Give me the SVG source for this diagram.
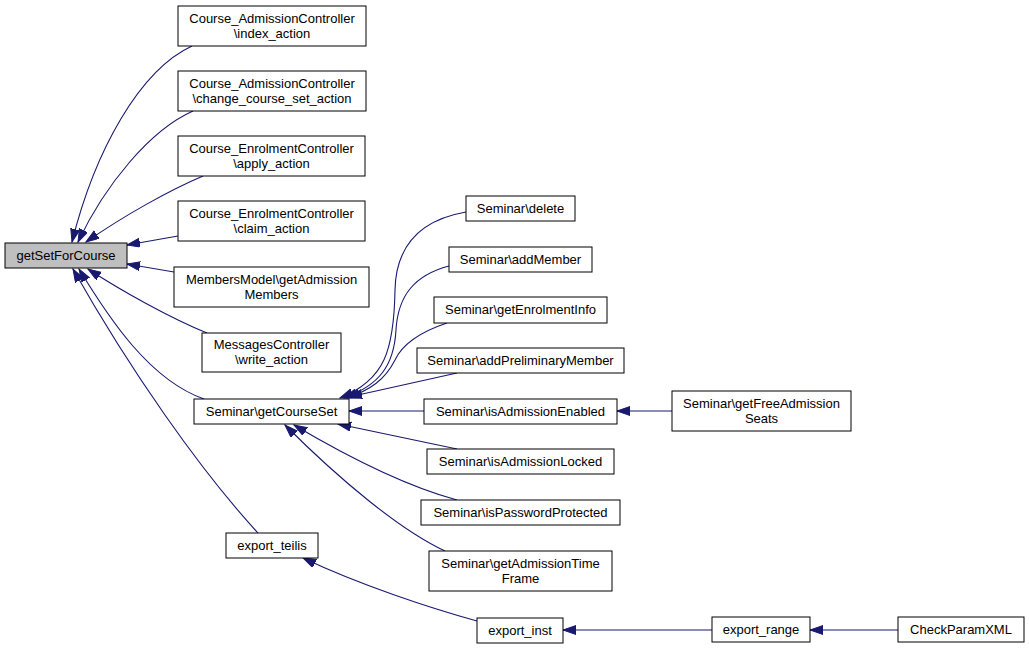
<svg xmlns="http://www.w3.org/2000/svg" width="1029" height="649" viewBox="0 0 1029 649">
<style>
.n rect{fill:#ffffff;stroke:#000000;stroke-width:1}
.n.hl rect{fill:#bfbfbf}
.n text{font-family:"Liberation Sans",Arial,sans-serif;font-size:13px;text-anchor:middle;fill:#000000}
.e path{fill:none;stroke:#191970;stroke-width:1.1;marker-end:url(#ah)}
</style>
<defs>
<marker id="ah" markerUnits="userSpaceOnUse" markerWidth="14" markerHeight="10" refX="13" refY="4.5" orient="auto">
<path d="M0,0 L13,4.5 L0,9 z" fill="#191970" stroke="#191970" stroke-width="1"/>
</marker>
</defs>
<rect x="0" y="0" width="1029" height="649" fill="#ffffff"/>
<g id="edges" class="e">
<path d="M192,46 C140,70 95,150 72,242"/>
<path d="M193,111 C150,130 105,185 78,242"/>
<path d="M203,176 C170,190 125,215 86,242"/>
<path d="M178,236 L127,245"/>
<path d="M174,272 L127,264"/>
<path d="M207,333 C170,318 120,290 88,269"/>
<path d="M204,399 C150,380 110,320 79,269"/>
<path d="M258,533 C200,470 130,370 73,269"/>
<path d="M466,212 C420,220 396,245 395,290 C394,350 385,380 340,398"/>
<path d="M449,266 C415,275 398,295 396,330 C394,365 380,385 344,398"/>
<path d="M447,323 C420,332 402,345 395,360 C385,380 370,390 347,398"/>
<path d="M457,373 L349,397"/>
<path d="M424,411 L349,411"/>
<path d="M457,449 L338,424"/>
<path d="M457,500 C420,490 370,470 294,425"/>
<path d="M445,551 C400,530 340,480 285,425"/>
<path d="M672,411 L617,411"/>
<path d="M477,621 C430,608 360,585 303,558"/>
<path d="M712,630 L563,630"/>
<path d="M898,630 L810,630"/>
</g>
<g id="getSetForCourse" class="n hl"><rect x="5" y="243" width="122" height="25"/><text x="66" y="260">getSetForCourse</text></g>
<g id="index_action" class="n"><rect x="178" y="6" width="188" height="40"/><text x="272" y="23">Course_AdmissionController</text><text x="272" y="38">\index_action</text></g>
<g id="change_course_set_action" class="n"><rect x="178" y="71" width="188" height="40"/><text x="272" y="88">Course_AdmissionController</text><text x="272" y="103">\change_course_set_action</text></g>
<g id="apply_action" class="n"><rect x="178" y="136" width="187" height="40"/><text x="271.5" y="153">Course_EnrolmentController</text><text x="271.5" y="168">\apply_action</text></g>
<g id="claim_action" class="n"><rect x="178" y="201" width="187" height="40"/><text x="271.5" y="218">Course_EnrolmentController</text><text x="271.5" y="233">\claim_action</text></g>
<g id="getAdmissionMembers" class="n"><rect x="174" y="267" width="195" height="40"/><text x="271.5" y="284">MembersModel\getAdmission</text><text x="271.5" y="299">Members</text></g>
<g id="write_action" class="n"><rect x="202" y="333" width="139" height="39"/><text x="271.5" y="349">MessagesController</text><text x="271.5" y="364">\write_action</text></g>
<g id="getCourseSet" class="n"><rect x="194" y="399" width="155" height="25"/><text x="271.5" y="416">Seminar\getCourseSet</text></g>
<g id="export_teilis" class="n"><rect x="226" y="533" width="92" height="25"/><text x="272" y="550">export_teilis</text></g>
<g id="delete" class="n"><rect x="466" y="196" width="109" height="25"/><text x="520.5" y="213">Seminar\delete</text></g>
<g id="addMember" class="n"><rect x="449" y="247" width="143" height="25"/><text x="520.5" y="264">Seminar\addMember</text></g>
<g id="getEnrolmentInfo" class="n"><rect x="434" y="297" width="173" height="26"/><text x="520.5" y="314">Seminar\getEnrolmentInfo</text></g>
<g id="addPreliminaryMember" class="n"><rect x="417" y="348" width="207" height="25"/><text x="520.5" y="365">Seminar\addPreliminaryMember</text></g>
<g id="isAdmissionEnabled" class="n"><rect x="424" y="399" width="193" height="25"/><text x="520.5" y="416">Seminar\isAdmissionEnabled</text></g>
<g id="isAdmissionLocked" class="n"><rect x="427" y="449" width="187" height="25"/><text x="520.5" y="466">Seminar\isAdmissionLocked</text></g>
<g id="isPasswordProtected" class="n"><rect x="421" y="500" width="199" height="25"/><text x="520.5" y="517">Seminar\isPasswordProtected</text></g>
<g id="getAdmissionTimeFrame" class="n"><rect x="429" y="551" width="183" height="40"/><text x="520.5" y="568">Seminar\getAdmissionTime</text><text x="520.5" y="583">Frame</text></g>
<g id="export_inst" class="n"><rect x="477" y="618" width="86" height="25"/><text x="520" y="635">export_inst</text></g>
<g id="getFreeAdmissionSeats" class="n"><rect x="672" y="391" width="179" height="40"/><text x="761.5" y="408">Seminar\getFreeAdmission</text><text x="761.5" y="423">Seats</text></g>
<g id="export_range" class="n"><rect x="712" y="617" width="98" height="25"/><text x="761" y="634">export_range</text></g>
<g id="CheckParamXML" class="n"><rect x="898" y="617" width="126" height="25"/><text x="961" y="634">CheckParamXML</text></g>
</svg>
